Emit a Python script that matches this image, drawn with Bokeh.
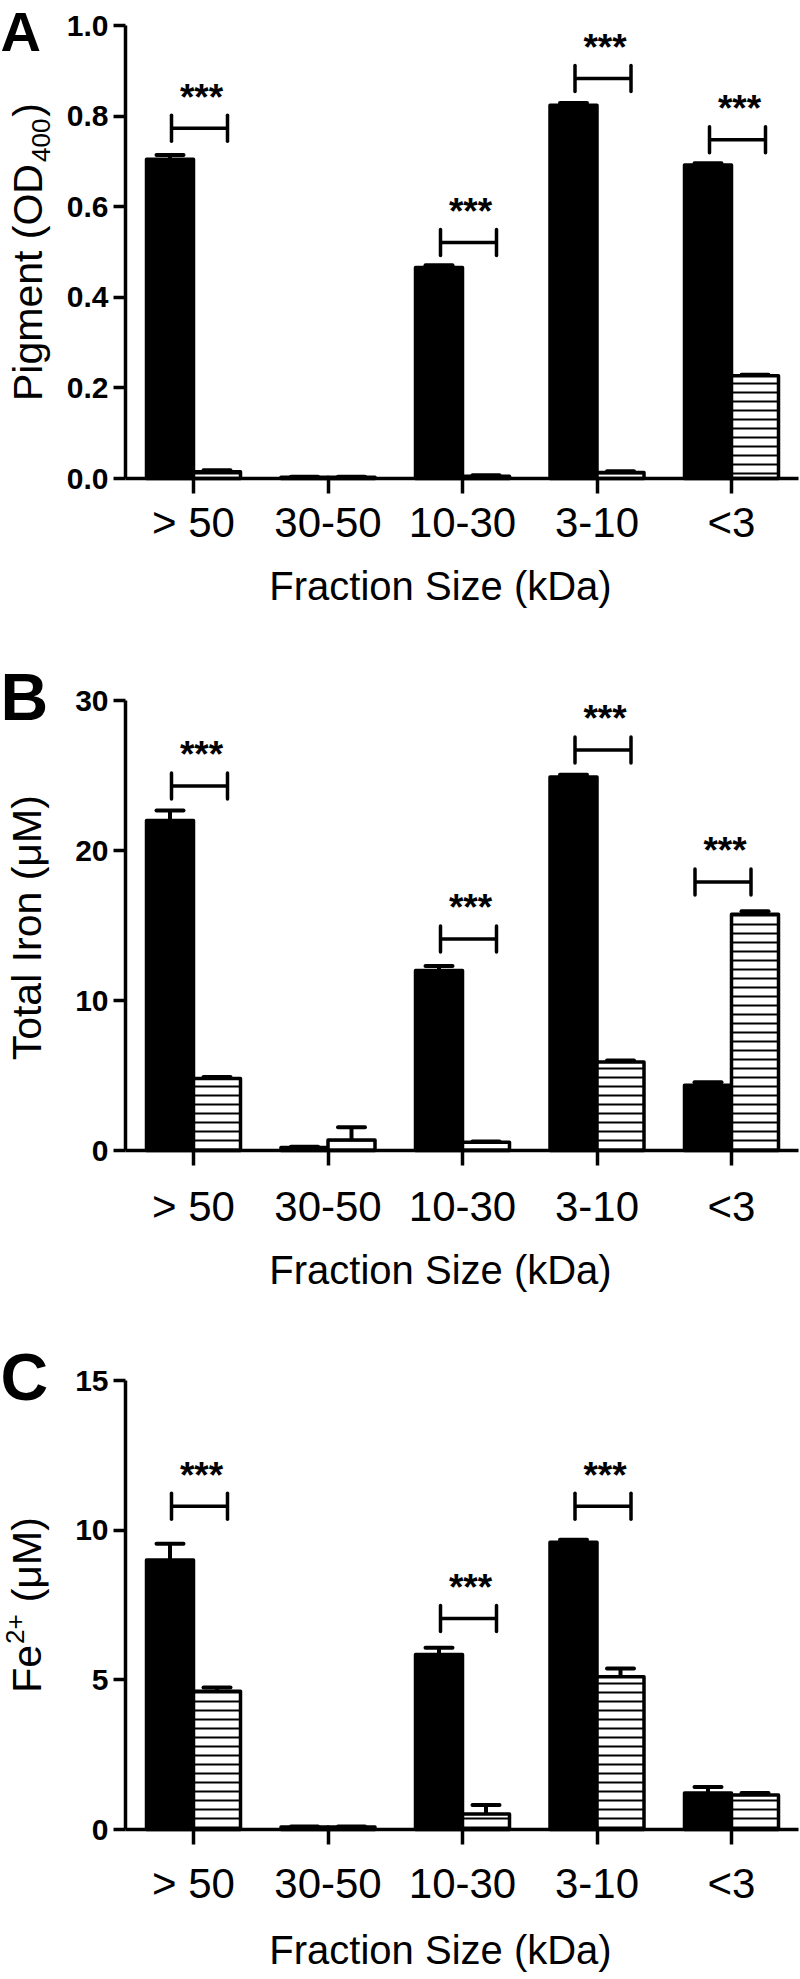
import math
from bokeh.plotting import figure
from bokeh.models import FixedTicker, Range1d, PrintfTickFormatter
from bokeh.layouts import column
from bokeh.embed import file_html
from bokeh.resources import INLINE

# ---------------- data ----------------
categories = ["> 50", "30-50", "10-30", "3-10", "<3"]

pig_ctrl = [0.705, 0.003, 0.466, 0.824, 0.692]
pig_ctrl_sem = [0.009, 0.001, 0.005, 0.005, 0.004]
pig_trt = [0.015, 0.003, 0.005, 0.013, 0.227]
pig_trt_sem = [0.003, 0.001, 0.002, 0.003, 0.002]
pig_sig_cats = [0, 2, 3, 4]
pig_sig_y = [0.773, 0.521, 0.883, 0.748]
pig_sig_side = [1, 1, 1, 1]
pig_yticks = [0.0, 0.2, 0.4, 0.6, 0.8, 1.0]

iron_ctrl = [22.0, 0.2, 12.0, 24.9, 4.35]
iron_ctrl_sem = [0.67, 0.05, 0.3, 0.15, 0.2]
iron_trt = [4.8, 0.7, 0.55, 5.9, 15.75]
iron_trt_sem = [0.1, 0.85, 0.05, 0.1, 0.2]
iron_sig_cats = [0, 2, 3, 4]
iron_sig_y = [24.3, 14.1, 26.7, 17.9]
iron_sig_side = [1, 1, 1, -1]
iron_yticks = [0, 10, 20, 30]

fe2_ctrl = [9.0, 0.08, 5.85, 9.6, 1.22]
fe2_ctrl_sem = [0.55, 0.02, 0.22, 0.08, 0.2]
fe2_trt = [4.62, 0.08, 0.52, 5.1, 1.15]
fe2_trt_sem = [0.12, 0.02, 0.3, 0.28, 0.07]
fe2_sig_cats = [0, 2, 3]
fe2_sig_y = [10.8, 7.05, 10.8]
fe2_sig_side = [1, 1, 1]
fe2_yticks = [0, 5, 10, 15]

# ---------------- layout constants (page pixels) ----------------
FONT = "Liberation Sans"
FIG_W = 800
AXIS_X = 125          # page x of y axis
FIRST_CAT_X = 193     # page x of first category tick
PX_PER_CAT = 134.5
X0 = (AXIS_X - FIRST_CAT_X) / PX_PER_CAT
X_END = X0 + (798 - AXIS_X) / PX_PER_CAT
LW = 3.5
K_BASE = 0.38         # renderer places the text this fraction of its size below the anchor

ARIAL_W = {' ': 278, '(': 333, ')': 333, '+': 584, 'D': 722, 'F': 611, 'I': 278,
           'M': 833, 'O': 778, 'P': 667, 'T': 611, 'a': 556, 'e': 556, 'g': 556,
           'i': 222, 'l': 222, 'm': 833, 'n': 556, 'o': 556, 'r': 333, 't': 278,
           'μ': 576}


def text_w(s, size):
    return sum(ARIAL_W.get(c, 556) for c in s) * size / 1000.0


def panel(letter, ylabel_parts, ctrl, ctrl_sem, trt, trt_sem, sig_cats, sig_y,
          sig_side, yticks, fmt, fig_top, fig_h, frame_top, frame_h,
          letter_base, letter_size, label_base_x, tick_standoff, title_base):
    ymax = yticks[-1]
    fb = frame_top + frame_h          # page y of value 0
    ppu = frame_h / ymax              # pixels per data unit

    def yd(py):
        return (fb - py) / ppu

    def xd(px):
        return X0 + (px - AXIS_X) / PX_PER_CAT

    xa = xd(0)
    xb = xa + FIG_W / PX_PER_CAT
    p = figure(width=FIG_W, height=fig_h,
               x_range=Range1d(xa, xb),
               y_range=Range1d(yd(fig_top + fig_h), yd(fig_top)),
               output_backend="svg", toolbar_location=None, min_border=0)
    p.outline_line_color = None
    p.xgrid.visible = False
    p.ygrid.visible = False
    p.background_fill_color = "white"
    p.border_fill_color = "white"

    xs = list(range(len(categories)))
    bw = 47 / PX_PER_CAT
    half = bw / 2
    xc = [x - half for x in xs]
    xt = [x + half for x in xs]

    p.vbar(x=xc, top=ctrl, bottom=0, width=bw, fill_color="black",
           line_color="black", line_width=LW, line_join="round")
    p.vbar(x=xt, top=trt, bottom=0, width=bw, fill_color="white",
           line_color="black", line_width=LW, line_join="round",
           hatch_pattern="horizontal_line", hatch_color="black",
           hatch_scale=9, hatch_weight=2)

    cap = 13.5 / PX_PER_CAT
    for xx, m, s in ((xc, ctrl, ctrl_sem), (xt, trt, trt_sem)):
        tops = [a + b for a, b in zip(m, s)]
        p.segment(x0=xx, y0=m, x1=xx, y1=tops, line_color="black", line_width=4)
        p.segment(x0=[x - cap for x in xx], y0=tops, x1=[x + cap for x in xx],
                  y1=tops, line_color="black", line_width=4, line_cap="round")

    # significance brackets
    hw = 28 / PX_PER_CAT
    eh = 13 / ppu
    cx = [c + (6 if sd > 0 else -8.5) / PX_PER_CAT for c, sd in zip(sig_cats, sig_side)]
    p.segment(x0=[c - hw for c in cx], y0=sig_y, x1=[c + hw for c in cx], y1=sig_y,
              line_color="black", line_width=LW)
    p.segment(x0=[c - hw for c in cx], y0=[y - eh for y in sig_y],
              x1=[c - hw for c in cx], y1=[y + eh for y in sig_y],
              line_color="black", line_width=LW, line_cap="round")
    p.segment(x0=[c + hw for c in cx], y0=[y - eh for y in sig_y],
              x1=[c + hw for c in cx], y1=[y + eh for y in sig_y],
              line_color="black", line_width=LW, line_cap="round")
    star_size = 37
    p.text(x=[c + 2 / PX_PER_CAT for c in cx],
           y=[y + (17 + K_BASE * star_size) / ppu for y in sig_y],
           text=["***"] * len(cx), text_align="center", text_baseline="alphabetic",
           text_font_size=f"{star_size}px", text_font_style="bold",
           text_color="black", text_font={"value": FONT})

    # axes placed at data locations (x axis at y=0, y axis at left end)
    for ax in (p.xaxis[0], p.yaxis[0]):
        ax.axis_line_width = LW
        ax.axis_line_color = "black"
        ax.major_tick_line_width = LW
        ax.major_tick_in = 0
        ax.minor_tick_line_color = None
        ax.major_label_text_color = "black"
        ax.major_label_text_font = FONT
    p.xaxis.fixed_location = 0
    p.xaxis.bounds = (X0, X_END)
    p.xaxis.ticker = FixedTicker(ticks=xs)
    p.xaxis.major_label_overrides = {i: c for i, c in enumerate(categories)}
    p.xaxis.major_tick_out = 15
    p.xaxis.major_label_text_font_size = "42px"
    p.xaxis.major_label_standoff = tick_standoff
    p.yaxis.fixed_location = X0
    p.yaxis.bounds = (0, ymax)
    p.yaxis.ticker = FixedTicker(ticks=yticks)
    p.yaxis.formatter = PrintfTickFormatter(format=fmt)
    p.yaxis.major_tick_out = 12
    p.yaxis.major_label_text_font_size = "30px"
    p.yaxis.major_label_text_font_style = "bold"
    p.yaxis.major_label_standoff = 5

    # panel letter
    p.text(x=[xd(0)], y=[yd(letter_base - K_BASE * letter_size)], text=[letter],
           text_font={"value": FONT}, text_font_size=f"{letter_size}px",
           text_font_style="bold", text_align="left",
           text_baseline="alphabetic", text_color="black")

    # x title
    tsize = 40
    p.text(x=[xd(440)], y=[yd(title_base - K_BASE * tsize)],
           text=["Fraction Size (kDa)"],
           text_font={"value": FONT}, text_font_size=f"{tsize}px",
           text_align="center", text_baseline="alphabetic", text_color="black")

    # rotated y label composed of parts (text, size, baseline shift, gap)
    total = 0
    for t, size, shift, gap in ylabel_parts:
        total += gap + text_w(t, size)
    pos = (frame_top + fb) / 2 + total / 2
    for t, size, shift, gap in ylabel_parts:
        pos -= gap
        p.text(x=[xd(label_base_x + shift - K_BASE * size)], y=[yd(pos)], text=[t],
               angle=math.pi / 2, text_font={"value": FONT},
               text_font_size=f"{size}px", text_align="left",
               text_baseline="alphabetic", text_color="black")
        pos -= text_w(t, size)
    return p


pA = panel("A", [("Pigment (OD", 41, 0, 0), ("400", 26, 7, 2), (")", 41, 0, 2)],
           pig_ctrl, pig_ctrl_sem, pig_trt, pig_trt_sem, pig_sig_cats, pig_sig_y,
           pig_sig_side, pig_yticks, "%.1f",
           fig_top=0, fig_h=640, frame_top=25, frame_h=453,
           letter_base=52, letter_size=56, label_base_x=43, tick_standoff=5,
           title_base=601)
pB = panel("B", [("Total Iron (μM)", 41, 0, 0)],
           iron_ctrl, iron_ctrl_sem, iron_trt, iron_trt_sem, iron_sig_cats, iron_sig_y,
           iron_sig_side, iron_yticks, "%d",
           fig_top=640, fig_h=660, frame_top=700, frame_h=450,
           letter_base=722, letter_size=66, label_base_x=42, tick_standoff=17,
           title_base=1285)
pC = panel("C", [("Fe", 41, 0, 0), ("2+", 26, -18, 1), ("(μM)", 41, 0, 12)],
           fe2_ctrl, fe2_ctrl_sem, fe2_trt, fe2_trt_sem, fe2_sig_cats, fe2_sig_y,
           fe2_sig_side, fe2_yticks, "%d",
           fig_top=1300, fig_h=676, frame_top=1380, frame_h=449,
           letter_base=1402, letter_size=66, label_base_x=42, tick_standoff=15,
           title_base=1965)

layout = column(pA, pB, pC, spacing=0)
open("out.html", "w").write(file_html(layout, INLINE))
